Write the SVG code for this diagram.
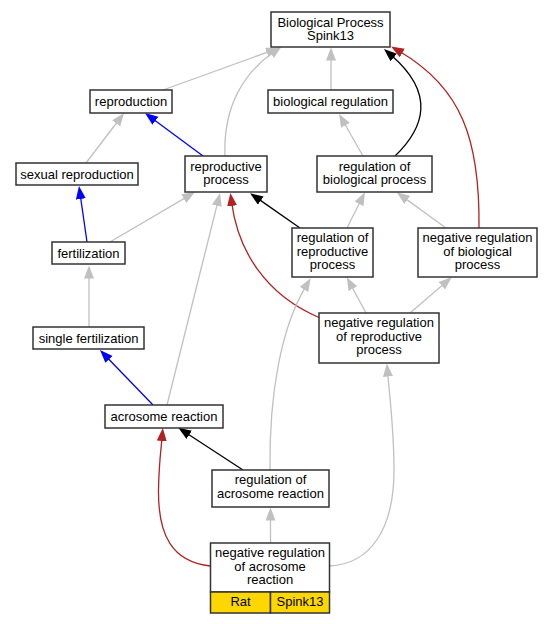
<svg xmlns="http://www.w3.org/2000/svg" width="552" height="624" viewBox="0 0 552 624">
<style>
.n rect{fill:#fff;stroke:#333;stroke-width:1.5}
.n rect.g{fill:#ffd700}
text{font-family:"Liberation Sans",Arial,sans-serif;font-size:13px;text-anchor:middle;fill:#000}
.e path{fill:none;stroke-width:1.3}
.gr{stroke:#c0c0c0}
.bk{stroke:#000}
.bl{stroke:#0000ff}
.rd{stroke:#b22222}
</style>
<defs>
<marker id="mg" markerUnits="userSpaceOnUse" markerWidth="14" markerHeight="11" refX="3" refY="5" orient="auto"><path d="M0,0 L13,5 L0,10 z" fill="#c0c0c0"/></marker>
<marker id="mk" markerUnits="userSpaceOnUse" markerWidth="14" markerHeight="11" refX="3" refY="5" orient="auto"><path d="M0,0 L13,5 L0,10 z" fill="#000"/></marker>
<marker id="mb" markerUnits="userSpaceOnUse" markerWidth="14" markerHeight="11" refX="3" refY="5" orient="auto"><path d="M0,0 L13,5 L0,10 z" fill="#0000ff"/></marker>
<marker id="mr" markerUnits="userSpaceOnUse" markerWidth="14" markerHeight="11" refX="3" refY="5" orient="auto"><path d="M0,0 L13,5 L0,10 z" fill="#b22222"/></marker>
</defs>
<rect width="552" height="624" fill="#fff"/>
<g id="edges" class="e">
<path class="gr" marker-end="url(#mg)" d="M163,90 L269.6,51.4"/>
<path class="gr" marker-end="url(#mg)" d="M225,156 C223,105 245,72 273.5,52.3"/>
<path class="gr" marker-end="url(#mg)" d="M331,90 L331,57.5"/>
<path class="bk" marker-end="url(#mk)" d="M395,156 C424,128 436,94 391.5,55.5"/>
<path class="rd" marker-end="url(#mr)" d="M479,228 C480,140 462,88 399.7,51.5"/>
<path class="gr" marker-end="url(#mg)" d="M86,163 L118,121"/>
<path class="bl" marker-end="url(#mb)" d="M203,156 L153,119"/>
<path class="bl" marker-end="url(#mb)" d="M87,242 L80.4,196"/>
<path class="gr" marker-end="url(#mg)" d="M110,242 L186.4,197.1"/>
<path class="gr" marker-end="url(#mg)" d="M89,327 L89,275.5"/>
<path class="bl" marker-end="url(#mb)" d="M153,405 L106.9,357.2"/>
<path class="gr" marker-end="url(#mg)" d="M167,405 L217.6,202.7"/>
<path class="bk" marker-end="url(#mk)" d="M300,228 L258.3,198.9"/>
<path class="rd" marker-end="url(#mr)" d="M320,318 C265,295 238,250 231.7,202.9"/>
<path class="gr" marker-end="url(#mg)" d="M363,156 L344,122.7"/>
<path class="gr" marker-end="url(#mg)" d="M347,228 L360.4,201.2"/>
<path class="gr" marker-end="url(#mg)" d="M446,228 L404.8,198.1"/>
<path class="gr" marker-end="url(#mg)" d="M366,313 L351.5,286.1"/>
<path class="gr" marker-end="url(#mg)" d="M410,313 L444.1,283.8"/>
<path class="bk" marker-end="url(#mk)" d="M243,470 L186.7,433.2"/>
<path class="gr" marker-end="url(#mg)" d="M270,470 C269,395 281,328 305.5,286.9"/>
<path class="rd" marker-end="url(#mr)" d="M210.5,566 C172,562 158,535 158.5,490 C158.8,465 161,450 162,438"/>
<path class="gr" marker-end="url(#mg)" d="M270.5,543 L270.5,517.5"/>
<path class="gr" marker-end="url(#mg)" d="M329.5,566 C370,564 394,530 394,470 C394,430 390,400 387.7,373.5"/>
</g>
<g id="n_bp" class="n"><rect x="271" y="12" width="119" height="35"/><text x="330.5" y="26.5">Biological Process</text><text x="330.5" y="40">Spink13</text></g>
<g id="n_bioreg" class="n"><rect x="268" y="90" width="125" height="23"/><text x="330.5" y="105.5">biological regulation</text></g>
<g id="n_repro" class="n"><rect x="90" y="90" width="82" height="23"/><text x="131" y="105.5">reproduction</text></g>
<g id="n_sexrepro" class="n"><rect x="16" y="163" width="122" height="22"/><text x="77" y="178.5">sexual reproduction</text></g>
<g id="n_reproproc" class="n"><rect x="185" y="156" width="82" height="36"/><text x="226" y="170.5">reproductive</text><text x="226" y="184">process</text></g>
<g id="n_fert" class="n"><rect x="52" y="242" width="73" height="22"/><text x="88.5" y="257.5">fertilization</text></g>
<g id="n_regbio" class="n"><rect x="317" y="156" width="115" height="36"/><text x="374.5" y="170.5">regulation of</text><text x="374.5" y="184">biological process</text></g>
<g id="n_regrepro" class="n"><rect x="292" y="228" width="81" height="49"/><text x="332.5" y="242">regulation of</text><text x="332.5" y="255.5">reproductive</text><text x="332.5" y="269">process</text></g>
<g id="n_negregbio" class="n"><rect x="418" y="228" width="119" height="49"/><text x="477.5" y="242">negative regulation</text><text x="477.5" y="255.5">of biological</text><text x="477.5" y="269">process</text></g>
<g id="n_negregrepro" class="n"><rect x="319" y="313" width="120" height="50"/><text x="379" y="327">negative regulation</text><text x="379" y="340.5">of reproductive</text><text x="379" y="354">process</text></g>
<g id="n_singlefert" class="n"><rect x="33" y="327" width="111" height="22"/><text x="88.5" y="342.5">single fertilization</text></g>
<g id="n_acro" class="n"><rect x="105" y="405" width="118" height="23"/><text x="164" y="420.5">acrosome reaction</text></g>
<g id="n_regacro" class="n"><rect x="212" y="470" width="117" height="37"/><text x="270.5" y="484">regulation of</text><text x="270.5" y="497.5">acrosome reaction</text></g>
<g id="n_negregacro" class="n"><rect x="210.5" y="543" width="119" height="49"/><rect class="g" x="210.5" y="592" width="60" height="21"/><rect class="g" x="270.5" y="592" width="59" height="21"/><text x="270" y="557">negative regulation</text><text x="270" y="570.5">of acrosome</text><text x="270" y="584">reaction</text><text x="240.5" y="606">Rat</text><text x="300" y="606">Spink13</text></g>
</svg>
